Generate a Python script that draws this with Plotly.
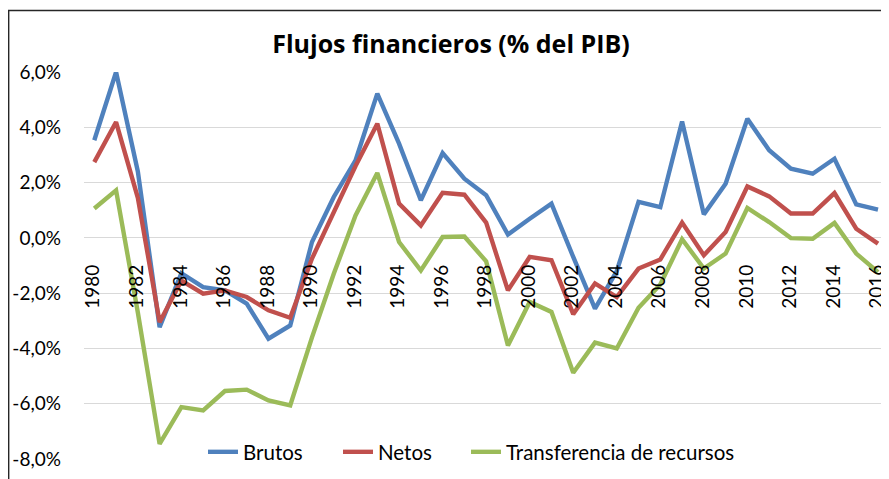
import plotly.graph_objects as go

years = list(range(1980, 2017))
brutos = [3.53, 6.0, 2.4, -3.23, -1.28, -1.78, -1.90, -2.38, -3.65, -3.17,
          -0.15, 1.48, 2.8, 5.22, 3.41, 1.36, 3.07, 2.14, 1.54, 0.12,
          0.69, 1.24, -0.69, -2.56, -1.2, 1.3, 1.11, 4.21, 0.85, 1.96,
          4.31, 3.17, 2.5, 2.32, 2.86, 1.21, 1.02]
netos = [2.74, 4.19, 1.45, -3.05, -1.55, -2.02, -1.90, -2.14, -2.62, -2.89,
         -0.75, 0.95, 2.6, 4.13, 1.24, 0.45, 1.63, 1.56, 0.55, -1.9,
         -0.69, -0.81, -2.76, -1.65, -2.14, -1.11, -0.78, 0.55, -0.63, 0.21,
         1.86, 1.5, 0.88, 0.88, 1.62, 0.33, -0.21]
transferencia = [1.06, 1.72, -2.7, -7.45, -6.12, -6.24, -5.54, -5.49, -5.88, -6.06,
                 -3.6, -1.3, 0.81, 2.35, -0.15, -1.18, 0.03, 0.05, -0.85, -3.89,
                 -2.32, -2.68, -4.88, -3.79, -4.0, -2.53, -1.69, -0.05, -1.11, -0.57,
                 1.08, 0.57, -0.01, -0.03, 0.54, -0.57, -1.24]
series_names = ["Brutos", "Netos", "Transferencia de recursos"]
series_colors = ["#4F81BD", "#C0504D", "#9BBB59"]
x_tickvals = list(range(1980, 2017, 2))
y_tickvals = [-8, -6, -4, -2, 0, 2, 4, 6]
y_ticktext = [f"{v:.1f}%".replace(".", ",") for v in y_tickvals]
title_text = "Flujos financieros (% del PIB)"

FONT = "Lato"
# page body has an 8px margin: figure pixel (x, y) lands at screen (x+8, y+8)
OFF = 8
W, H = 889 - OFF, 479 - OFF
L, R, T, B = 84 - OFF, 0, 72 - OFF, 479 - 459
plot_w = W - L - R
plot_h = H - T - B
px_per_year = (878.0 - 94.3) / 36
x0 = 1980 - (94.3 - 84) / px_per_year
x1 = x0 + plot_w / px_per_year

legend_ids = ["legend", "legend2", "legend3"]
legend_screen_x = [203, 338, 466]

fig = go.Figure()
for name, vals, col, lid in zip(series_names, [brutos, netos, transferencia],
                                series_colors, legend_ids):
    fig.add_trace(go.Scatter(x=years, y=vals, name=name, mode="lines", legend=lid,
                             line=dict(color=col, width=4.4)))

legend_layout = {}
for lid, sx in zip(legend_ids, legend_screen_x):
    legend_layout[lid] = dict(orientation="h", x=(sx - OFF - L) / plot_w, xanchor="left",
                              y=(459 - 452) / plot_h, yanchor="middle",
                              bgcolor="rgba(0,0,0,0)", font=dict(family=FONT, size=20.5))

fig.update_layout(
    width=W, height=H,
    margin=dict(l=L, r=R, t=T, b=B, autoexpand=False),
    paper_bgcolor="white", plot_bgcolor="white",
    separators=",.",
    font=dict(family=FONT, size=19, color="black"),
    title=dict(text="<b>" + title_text + "</b>", x=(451 - OFF) / W, xanchor="center",
               y=1 - (44 - OFF) / H, yanchor="middle",
               font=dict(family="Open Sans", size=25, color="black")),
    showlegend=True,
    xaxis=dict(range=[x0, x1], tickmode="array", tickvals=x_tickvals,
               ticktext=[str(v) for v in x_tickvals], tickangle=-90,
               showgrid=False, zeroline=False, showline=False, ticks="",
               anchor="free", position=8 / 14, ticklabelstandoff=22,
               ticklabelshift=-1, ticklabeloverflow="allow",
               automargin=False, tickfont=dict(family=FONT, size=19)),
    yaxis=dict(range=[-8, 6], tickmode="array", tickvals=y_tickvals,
               ticktext=y_ticktext, showgrid=True,
               gridcolor="#D9D9D9", gridwidth=1.3, zeroline=False,
               showline=False, ticks="", ticklabelstandoff=22, automargin=False,
               tickfont=dict(family=FONT, size=19)),
    shapes=[dict(type="rect", xref="paper", yref="paper",
                 x0=(0.7 - L) / plot_w, x1=(W + 20 - L) / plot_w,
                 y0=-(B + 20) / plot_h, y1=1 + (T - 2.5) / plot_h,
                 line=dict(color="#262626", width=1.4), fillcolor="rgba(0,0,0,0)",
                 layer="above")],
    **legend_layout,
)

fig.write_html("out.html")
